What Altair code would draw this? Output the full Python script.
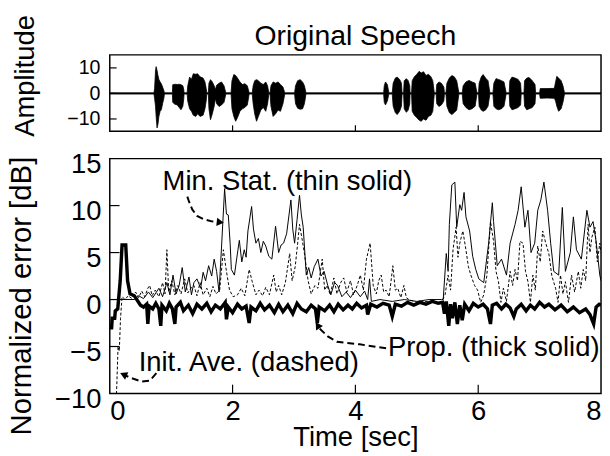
import altair as alt
import pandas as pd

FONT = "Liberation Sans"

# ---------------- data ----------------
# speech waveform envelope (time [s], upper, lower)
wave_t = [0.00,
          0.72, 0.73, 0.745, 0.755, 0.77, 0.785, 0.80, 0.82, 0.84, 0.86, 0.88, 0.89,
          1.02, 1.025, 1.06, 1.10, 1.13, 1.16, 1.19, 1.205, 1.21,
          1.26, 1.27, 1.30, 1.33, 1.36, 1.40, 1.43, 1.47, 1.52, 1.55, 1.57, 1.58,
          1.605, 1.615, 1.64, 1.67, 1.70, 1.72, 1.74, 1.78, 1.82, 1.86, 1.89,
          1.975, 1.99, 2.02, 2.05, 2.08, 2.12, 2.16, 2.20, 2.24, 2.27,
          2.32, 2.335, 2.36, 2.39, 2.42, 2.46, 2.50, 2.54, 2.57, 2.59,
          2.61, 2.625, 2.66, 2.70, 2.74, 2.78, 2.82, 2.85,
          3.01, 3.025, 3.06, 3.10, 3.14, 3.17, 3.195,
          4.46, 4.47, 4.49, 4.52, 4.545,
          4.60, 4.615, 4.65, 4.68, 4.72, 4.75, 4.76,
          4.785, 4.795, 4.83, 4.86, 4.885, 4.89,
          4.915, 4.925, 4.96, 5.00, 5.04, 5.07, 5.11, 5.15, 5.19, 5.23, 5.26, 5.285,
          5.315, 5.325, 5.36, 5.40, 5.44, 5.45,
          5.475, 5.49, 5.53, 5.57, 5.61, 5.65, 5.685,
          5.74, 5.755, 5.80, 5.85, 5.90, 5.95, 5.98,
          6.005, 6.015, 6.05, 6.08, 6.12, 6.16, 6.19,
          6.24, 6.255, 6.29, 6.33, 6.38, 6.42, 6.455,
          6.505, 6.515, 6.55, 6.60, 6.65, 6.69, 6.70,
          6.745, 6.755, 6.79, 6.83, 6.88, 6.925, 6.935,
          7.00, 7.01, 7.12, 7.24, 7.26, 7.28, 7.31, 7.35, 7.38, 7.405,
          8.00]
wave_hi = [0.25,
           0.25, 2.0, 9.0, 10.5, 9.0, 7.0, 5.5, 4.5, 3.8, 2.5, 1.2, 0.25,
           0.25, 3.4, 3.6, 3.5, 3.6, 3.4, 3.0, 1.5, 0.25,
           0.25, 3.0, 6.4, 5.5, 7.7, 7.5, 7.7, 6.5, 6.0, 4.5, 2.0, 0.25,
           0.25, 4.0, 5.4, 4.5, 3.0, 1.5, 3.2, 4.0, 4.5, 3.0, 0.25,
           0.25, 5.0, 7.4, 7.0, 6.0, 4.5, 3.5, 3.8, 3.0, 0.25,
           0.25, 3.0, 5.0, 5.4, 5.0, 4.0, 3.5, 4.5, 3.0, 0.25,
           0.25, 3.0, 4.5, 4.0, 4.5, 3.5, 2.5, 0.25,
           0.25, 3.0, 5.0, 5.4, 4.5, 3.0, 0.25,
           0.25, 3.0, 4.5, 3.5, 0.25,
           0.25, 4.0, 6.0, 6.4, 5.5, 4.0, 0.25,
           0.25, 5.0, 5.8, 5.0, 3.0, 0.25,
           0.25, 5.0, 6.5, 7.5, 8.7, 8.0, 8.5, 7.0, 7.5, 6.5, 5.0, 0.25,
           0.25, 3.5, 4.5, 4.0, 2.5, 0.25,
           0.25, 4.0, 6.0, 7.0, 6.5, 5.0, 0.25,
           0.25, 3.0, 4.5, 5.1, 4.5, 4.0, 0.25,
           0.25, 4.0, 6.5, 7.4, 6.0, 5.0, 0.25,
           0.25, 4.0, 5.8, 5.5, 5.0, 4.5, 0.25,
           0.25, 5.0, 6.4, 6.0, 5.5, 4.0, 0.25,
           0.25, 5.0, 6.0, 6.2, 5.0, 3.5, 0.25,
           0.25, 1.9, 1.9, 2.0, 4.5, 6.7, 6.0, 5.0, 3.0, 0.25,
           0.25]
wave_lo = [-0.25,
           -0.25, -2.0, -5.0, -9.0, -13.5, -12.0, -9.0, -7.0, -6.4, -4.0, -2.0, -0.25,
           -0.25, -3.5, -4.2, -4.5, -5.5, -6.4, -5.0, -2.0, -0.25,
           -0.25, -3.0, -6.0, -7.0, -8.5, -9.0, -8.0, -9.0, -8.5, -6.0, -3.0, -0.25,
           -0.25, -6.0, -10.3, -8.0, -5.0, -2.0, -4.0, -5.1, -4.5, -3.5, -0.25,
           -0.25, -6.0, -9.0, -10.9, -9.5, -7.0, -6.0, -5.5, -4.5, -0.25,
           -0.25, -4.0, -8.0, -10.9, -9.0, -6.5, -5.5, -7.0, -4.0, -0.25,
           -0.25, -5.0, -9.0, -8.0, -6.5, -7.0, -4.0, -0.25,
           -0.25, -4.0, -5.8, -6.2, -6.0, -4.0, -0.25,
           -0.25, -3.5, -4.5, -3.0, -0.25,
           -0.25, -5.0, -7.5, -8.3, -7.0, -5.0, -0.25,
           -0.25, -6.0, -7.4, -6.5, -4.0, -0.25,
           -0.25, -7.0, -8.5, -9.5, -10.5, -10.9, -10.0, -10.5, -9.0, -8.5, -7.0, -0.25,
           -0.25, -4.0, -5.1, -4.5, -3.0, -0.25,
           -0.25, -5.0, -7.5, -8.3, -7.5, -6.5, -0.25,
           -0.25, -4.0, -5.5, -6.4, -6.0, -5.0, -0.25,
           -0.25, -5.0, -6.5, -7.0, -6.5, -5.0, -0.25,
           -0.25, -5.0, -6.0, -6.4, -6.0, -5.0, -0.25,
           -0.25, -5.0, -6.4, -6.0, -5.5, -4.5, -0.25,
           -0.25, -5.0, -6.4, -6.0, -5.5, -4.0, -0.25,
           -0.25, -1.9, -1.8, -1.9, -3.0, -5.0, -7.0, -6.0, -3.5, -0.25,
           -0.25]

# Min. Stat. (thin solid)
ms_t = [0.00, 0.40, 0.47, 0.55, 0.63, 0.70, 0.80, 0.86, 0.93, 0.98, 1.03, 1.08, 1.13, 1.18,
        1.23, 1.29, 1.33, 1.37, 1.42, 1.48, 1.52, 1.56, 1.61, 1.66, 1.70, 1.74, 1.78, 1.82,
        1.87, 1.90, 1.93, 1.96, 1.98, 2.03, 2.07, 2.11, 2.15, 2.19, 2.22, 2.25, 2.31, 2.34,
        2.38, 2.42, 2.46, 2.50, 2.54, 2.59, 2.64, 2.70, 2.75, 2.79, 2.83, 2.88, 2.95, 2.98,
        3.01, 3.05, 3.09, 3.12, 3.15, 3.20, 3.24, 3.28, 3.33, 3.39, 3.44, 3.49, 3.55, 3.60,
        3.66, 3.71, 3.78, 3.85, 3.92, 4.00, 4.08, 4.15, 4.20, 4.23, 4.26, 4.40, 4.60, 4.80,
        5.00, 5.20, 5.40, 5.43, 5.48, 5.51, 5.53, 5.57, 5.62, 5.65, 5.70, 5.73, 5.77, 5.80,
        5.86, 5.91, 5.96, 6.01, 6.09, 6.17, 6.23, 6.25, 6.31, 6.38, 6.46, 6.52, 6.60, 6.65,
        6.70, 6.76, 6.81, 6.86, 6.92, 6.97, 7.02, 7.07, 7.13, 7.18, 7.23, 7.31, 7.37, 7.42,
        7.50, 7.55, 7.60, 7.68, 7.77, 7.82, 7.87, 7.92, 7.98, 8.00]
ms_v = [0.0, 0.0, 0.4, 0.1, 0.8, 0.2, 1.2, 0.3, 1.8, 0.5, 2.6, 0.6, 1.5, 3.4,
        0.8, 2.4, 0.5, 1.8, 2.2, 1.2, 2.9, 2.0, 3.6, 2.5, 4.3, 3.0, 0.8, 5.6,
        11.8, 9.1, 9.0, 6.0, 3.2, 2.6, 4.5, 6.3, 4.0, 5.3, 4.5, 7.3, 9.9, 7.5,
        6.0, 6.5, 5.0, 6.2, 5.7, 4.6, 4.3, 7.8, 5.0, 5.8, 6.0, 7.0, 10.6, 7.5,
        6.0, 8.5, 11.1, 9.0, 7.7, 2.6, 3.4, 2.3, 3.5, 4.3, 2.5, 3.0, 1.5, 0.5,
        1.8, 1.5, 0.3, 0.8, 0.2, 1.0, 0.3, 0.9, 0.0, 2.2, -0.2, 0.0, -0.2, 0.0,
        -0.2, 0.0, 0.0, 0.0, 4.9, 3.0, 8.0, 12.2, 12.5, 7.7, 10.1, 9.5, 11.4, 8.8,
        7.3, 4.6, 3.2, 2.2, 1.8, 6.0, 10.3, 8.3, 3.6, 4.3, 2.6, 6.0, 8.0, 9.5,
        12.0, 7.7, 9.5, 5.0, 6.0, 9.5, 10.6, 12.5, 9.5, 6.0, 3.0, 2.6, 9.8, 3.0,
        5.0, 8.8, 5.3, 4.3, 9.5, 7.7, 8.3, 6.2, 2.6, 2.0]

# Init. Ave. (dashed)
ia_t = [0.00, 0.10, 0.115, 0.135, 0.155, 0.175, 0.20, 0.25, 0.30, 0.36, 0.42, 0.47, 0.52, 0.57,
        0.62, 0.65, 0.69, 0.74, 0.80, 0.86, 0.90, 0.93, 0.96, 1.01, 1.06, 1.11, 1.16, 1.22,
        1.27, 1.32, 1.37, 1.42, 1.47, 1.52, 1.58, 1.63, 1.68, 1.73, 1.79, 1.85, 1.90, 1.95,
        2.01, 2.08, 2.14, 2.20, 2.27, 2.32, 2.38, 2.43, 2.49, 2.54, 2.60, 2.67, 2.71, 2.75,
        2.80, 2.86, 2.93, 2.97, 3.02, 3.06, 3.09, 3.13, 3.17, 3.23, 3.28, 3.34, 3.39, 3.46,
        3.50, 3.54, 3.59, 3.65, 3.70, 3.76, 3.81, 3.86, 3.92, 3.97, 4.03, 4.08, 4.13, 4.18,
        4.24, 4.29, 4.34, 4.38, 4.42, 4.46, 4.50, 4.55, 4.61, 4.65, 4.69, 4.74, 4.79, 4.83,
        4.87, 5.00, 5.20, 5.40, 5.46, 5.51, 5.55, 5.59, 5.64, 5.67, 5.70, 5.75, 5.80, 5.84,
        5.88, 5.94, 5.99, 6.04, 6.09, 6.14, 6.20, 6.25, 6.29, 6.33, 6.37, 6.41, 6.46, 6.52,
        6.56, 6.60, 6.64, 6.68, 6.73, 6.77, 6.81, 6.85, 6.89, 6.93, 6.97, 7.01, 7.05, 7.10,
        7.15, 7.20, 7.26, 7.30, 7.34, 7.38, 7.42, 7.47, 7.52, 7.57, 7.63, 7.67, 7.71, 7.75,
        7.79, 7.82, 7.85, 7.90, 7.94, 7.98, 8.00]
ia_v = [-12.0, -12.0, -9.0, -5.0, -5.5, -2.0, 0.3, 0.0, 0.4, 0.1, 0.8, 0.2, 0.9, 0.3,
        1.2, 1.5, 0.4, 1.0, 0.3, 1.8, 0.6, 5.3, 0.8, 2.0, 0.5, 1.5, 0.6, 2.2,
        0.7, 1.2, 1.5, 0.4, 1.8, 0.5, 1.2, 0.3, 1.4, 0.6, 1.0, 5.3, 3.0, 1.0,
        0.3, 0.5, 1.2, 0.4, 3.2, 1.9, 0.5, 1.0, 0.4, 1.3, 0.5, 2.6, 0.8, 1.5,
        0.5, 1.8, 4.9, 2.0, 3.5, 6.0, 8.0, 6.5, 4.9, 2.0, 0.6, 1.5, 1.2, 4.3,
        1.0, 1.5, 0.5, 2.3, 0.6, 1.8, 2.3, 0.8, 2.0, 0.5, 1.5, 2.6, 1.0, 4.3,
        6.0, 1.5, 0.6, 2.0, 2.6, 0.8, 1.0, 0.3, 3.6, 1.0, 1.2, 0.2, 1.5, 0.2,
        0.0, -0.3, -0.2, -0.3, 0.5, 2.6, 1.0, 5.3, 7.7, 4.5, 6.0, 7.3, 5.3, 3.5,
        2.6, 1.5, 1.0, -0.3, 0.5, 2.5, 8.3, 6.2, 3.0, 1.9, -0.3, 1.2, -0.2, 3.0,
        1.5, 3.2, 2.0, 6.2, 6.0, 3.0, 1.9, -0.3, 2.6, 1.0, 5.7, 4.0, 7.3, 6.0,
        4.9, 2.5, 1.2, -0.3, 2.6, 0.6, 1.9, -0.3, 2.6, 0.8, 3.0, 1.2, 3.2, 2.0,
        8.0, 5.0, 6.6, 7.7, 4.0, 6.0, 5.0]

# Prop. (thick solid)
pr_t = [0.00, 0.03, 0.04, 0.08, 0.09, 0.13, 0.17, 0.20, 0.26, 0.29, 0.33, 0.40, 0.50, 0.55,
        0.60, 0.62, 0.64, 0.70, 0.75, 0.80, 0.83, 0.85, 0.92, 0.97, 1.02, 1.06, 1.08, 1.15,
        1.20, 1.28, 1.35, 1.42, 1.50, 1.58, 1.65, 1.72, 1.80, 1.88, 1.90, 1.93, 2.00, 2.08,
        2.15, 2.22, 2.27, 2.30, 2.38, 2.45, 2.52, 2.60, 2.68, 2.75, 2.82, 2.90, 2.98, 3.05,
        3.12, 3.20, 3.28, 3.35, 3.38, 3.41, 3.50, 3.58, 3.65, 3.72, 3.80, 3.88, 3.95, 4.02,
        4.10, 4.18, 4.20, 4.25, 4.35, 4.45, 4.55, 4.60, 4.65, 4.75, 4.85, 4.95, 5.05, 5.15,
        5.25, 5.35, 5.42, 5.45, 5.48, 5.52, 5.55, 5.58, 5.62, 5.66, 5.70, 5.74, 5.78, 5.85,
        5.92, 6.00, 6.08, 6.15, 6.20, 6.23, 6.30, 6.38, 6.45, 6.52, 6.58, 6.62, 6.70, 6.78,
        6.85, 6.92, 7.00, 7.08, 7.15, 7.25, 7.35, 7.45, 7.55, 7.65, 7.75, 7.82, 7.88, 7.92,
        7.97, 8.00]
pr_v = [-3.0, -3.0, -2.0, -2.0, -1.2, -1.0, 2.0, 5.8, 5.8, 2.0, 0.6, 0.4, -0.6, -0.8,
        -0.5, -2.6, -0.7, -1.0, -0.4, -1.0, -2.8, -0.6, -1.2, -0.4, -1.0, -2.6, -0.8, -0.3,
        -1.2, -0.6, -1.5, -0.5, -1.0, -0.4, -1.3, -0.6, -1.0, -0.3, -2.1, -0.8, -1.4, -0.5,
        -1.0, -0.7, -2.5, -0.8, -1.2, -0.4, -1.1, -0.6, -1.4, -0.5, -1.3, -0.6, -1.5, -0.4,
        -1.0, -1.3, -0.6, -1.0, -2.5, -0.8, -1.2, -0.6, -1.3, -0.5, -1.1, -0.6, -1.0, -0.4,
        -0.9, -0.6, -1.6, -0.5, -0.8, -0.4, -0.6, -1.8, -0.5, -0.7, -0.3, -0.6, -0.3, -0.5,
        -0.2, -0.4, -0.3, -1.5, -0.2, -2.8, -0.5, -2.0, -0.3, -2.6, -0.6, -2.2, -0.5, -1.2,
        -0.4, -0.8, -0.5, -1.0, -2.6, -0.6, -0.4, -1.0, -0.5, -0.9, -1.8, -1.0, -0.5, -1.2,
        -0.6, -1.0, -0.3, -0.8, -0.5, -1.1, -0.6, -1.3, -0.8, -1.4, -1.0, -1.6, -2.6, -0.8,
        -0.5, -0.6]

# axes
x_ticks = [0, 2, 4, 6, 8]
x_inner_ticks = [2, 4, 6]
amp_ticks = [-10, 0, 10]
err_ticks = [-10, -5, 0, 5, 10, 15]
err_inner_ticks = [-5, 0, 5, 10]

# titles / annotations
top_title = ["Original Speech"]
ann_text = ["Min. Stat. (thin solid)", "Init. Ave. (dashed)", "Prop. (thick solid)"]
ann_t = [0.86, 0.47, 4.53]
ann_y = [11.65, -7.6, -6.05]

arrow_id = [1, 1, 1, 1, 1, 1, 1, 2, 2, 2, 2, 2, 3, 3, 3, 3, 3, 3]
arrow_t = [1.263, 1.290, 1.343, 1.422, 1.529, 1.661, 1.76,
           0.759, 0.653, 0.520, 0.361, 0.26,
           4.50, 4.07, 3.70, 3.55, 3.45, 3.40]
arrow_y = [10.96, 10.44, 9.59, 8.90, 8.56, 8.32, 8.24,
           -7.84, -8.63, -8.73, -8.38, -8.10,
           -5.19, -4.77, -4.50, -3.92, -3.30, -2.95]
head_t = [1.78, 0.24, 3.395]
head_y = [8.23, -8.03, -2.85]
head_angle = [97, 293, 327]

# ---------------- chart ----------------
xs = alt.Scale(domain=[0, 8], nice=False, zero=False)
amp_scale = alt.Scale(domain=[-14.8, 15.1], nice=False, zero=False)
err_scale = alt.Scale(domain=[-10, 15], nice=False, zero=False)

W = 502
H_TOP = 78
H_BOT = 240

top_y_axis = alt.Axis(values=amp_ticks, ticks=False, domain=False, grid=False,
                      title="Amplitude", labelFontSize=20, labelPadding=10,
                      titleFontSize=28, titlePadding=28, titleY=21)
bot_x_axis = alt.Axis(values=x_ticks, ticks=False, domain=False, grid=False, title="Time [sec]",
                      labelFontSize=28, labelPadding=5, labelFlush=True,
                      titleFontSize=28, titlePadding=-2)
bot_y_axis = alt.Axis(values=err_ticks, ticks=False, domain=False, grid=False,
                      title="Normalized error [dB]", labelFontSize=28, labelPadding=9,
                      labelOffset=6, titleFontSize=30, titlePadding=18, titleY=140)


def tx(field="t"):
    return alt.X(f"{field}:Q", scale=xs, axis=bot_x_axis)


def ty(field="v"):
    return alt.Y(f"{field}:Q", scale=err_scale, axis=bot_y_axis)


wave_df = pd.DataFrame({"t": wave_t, "hi": wave_hi, "lo": wave_lo})
wave = alt.Chart(wave_df).mark_area(color="black", stroke="black", strokeWidth=0.8, clip=True).encode(
    x=alt.X("t:Q", scale=xs, axis=None),
    y=alt.Y("hi:Q", scale=amp_scale, axis=top_y_axis),
    y2="lo:Q",
)
top_ytick = alt.Chart(pd.DataFrame({"hi": amp_ticks})).mark_rule(color="black", strokeWidth=1.2).encode(
    y=alt.Y("hi:Q", scale=amp_scale, axis=top_y_axis), x=alt.value(0), x2=alt.value(7))
top_xtick = alt.Chart(pd.DataFrame({"t": x_inner_ticks})).mark_rule(color="black", strokeWidth=1.2).encode(
    x=alt.X("t:Q", scale=xs, axis=None), y=alt.value(H_TOP), y2=alt.value(H_TOP - 6))
title_mark = alt.Chart(pd.DataFrame({"txt": top_title})).mark_text(
    fontSize=29, font=FONT, color="black", align="center", baseline="alphabetic").encode(
    x=alt.value(W / 2), y=alt.value(-10), text="txt:N")

top = alt.layer(wave, top_ytick, top_xtick, title_mark).properties(width=W, height=H_TOP)

ia_df = pd.DataFrame({"t": ia_t, "v": ia_v})
ms_df = pd.DataFrame({"t": ms_t, "v": ms_v})
pr_df = pd.DataFrame({"t": pr_t, "v": pr_v})

ia_line = alt.Chart(ia_df).mark_line(color="black", strokeWidth=1, strokeDash=[3, 2], clip=True).encode(
    x=tx(), y=ty())
ms_line = alt.Chart(ms_df).mark_line(color="black", strokeWidth=1, clip=True).encode(x=tx(), y=ty())
pr_line = alt.Chart(pr_df).mark_line(color="black", strokeWidth=3.5, clip=True).encode(x=tx(), y=ty())

bot_ytick = alt.Chart(pd.DataFrame({"v": err_inner_ticks})).mark_rule(color="black", strokeWidth=1.2).encode(
    y=ty(), x=alt.value(0), x2=alt.value(10))
bot_xtick = alt.Chart(pd.DataFrame({"t": x_inner_ticks})).mark_rule(color="black", strokeWidth=1.2).encode(
    x=tx(), y=alt.value(H_BOT), y2=alt.value(H_BOT - 9))

ann = alt.Chart(pd.DataFrame({"t": ann_t, "v": ann_y, "txt": ann_text})).mark_text(
    align="left", baseline="alphabetic", fontSize=28, font=FONT, color="black").encode(
    x=tx(), y=ty(), text="txt:N")

arrows = alt.Chart(pd.DataFrame({"id": arrow_id, "t": arrow_t, "v": arrow_y,
                                 "o": list(range(len(arrow_t)))})).mark_line(
    color="black", strokeWidth=2, strokeDash=[7, 4]).encode(
    x=tx(), y=ty(), detail="id:N", order="o:Q")

heads = alt.Chart(pd.DataFrame({"t": head_t, "v": head_y, "a": head_angle})).mark_point(
    shape="triangle", filled=True, size=70, color="black", opacity=1).encode(
    x=tx(), y=ty(), angle=alt.Angle("a:Q", scale=None))

bottom = alt.layer(ia_line, ms_line, pr_line, bot_ytick, bot_xtick, ann, arrows, heads).properties(
    width=W, height=H_BOT)

chart = alt.vconcat(top, bottom, spacing=28, bounds="flush").properties(
    padding={"left": -2, "top": 0, "right": 0, "bottom": 0},
    background="white",
).configure_view(
    stroke="black", strokeWidth=1.5
).configure_axis(
    labelFont=FONT, titleFont=FONT, labelColor="black", titleColor="black",
    titleFontWeight="normal"
)

chart.save("out.html", embed_options={"renderer": "svg", "actions": False})
